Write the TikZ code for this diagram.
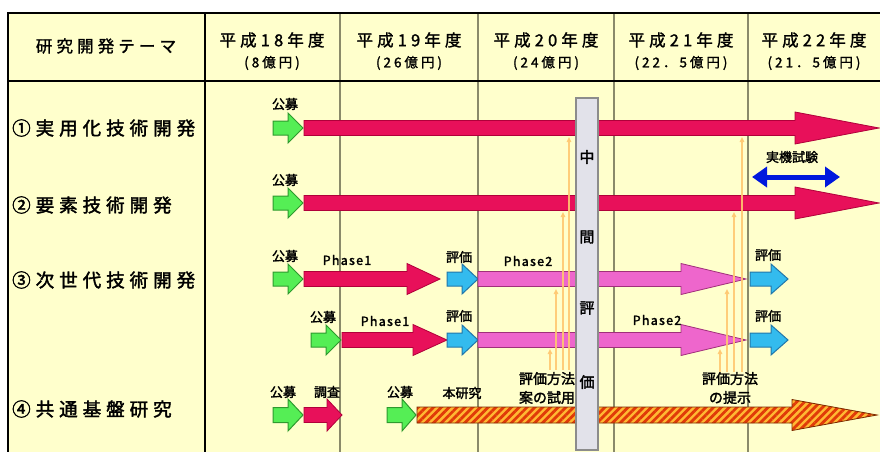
\documentclass[tikz,border=0pt]{standalone}
\usepackage{fontspec}
\setmainfont{Noto Sans CJK JP}
\newfontfamily\jp{Noto Sans CJK JP}[FakeBold=2]
\newfontfamily\jpl{Noto Sans CJK JP}[FakeBold=2,LetterSpace=10]
\newfontfamily\jpw{Noto Sans CJK JP}[FakeBold=2,LetterSpace=27]
\newfontfamily\jph{Noto Sans CJK JP}[FakeBold=1.5,LetterSpace=25]
\newfontfamily\jphs{Noto Sans CJK JP}[FakeBold=1.5,LetterSpace=22]
\usetikzlibrary{patterns.meta,arrows.meta}
\definecolor{bgy}{HTML}{FFFFCC}
\definecolor{gridc}{HTML}{8A8A6A}
\definecolor{redA}{HTML}{E8105A}
\definecolor{redB}{HTML}{B0003A}
\definecolor{grnA}{HTML}{55EE55}
\definecolor{grnB}{HTML}{2E9A2E}
\definecolor{cyA}{HTML}{33BBEE}
\definecolor{cyB}{HTML}{2277AA}
\definecolor{pkA}{HTML}{EE66CC}
\definecolor{pkB}{HTML}{A0307A}
\definecolor{orgL}{HTML}{FFC870}
\definecolor{grayA}{HTML}{E2E2EA}
\definecolor{grayB}{HTML}{8C8C8C}
\definecolor{blueA}{HTML}{0018DD}
\definecolor{hatchA}{HTML}{FFB833}
\definecolor{hatchB}{HTML}{E03A08}
\definecolor{hatchC}{HTML}{7A2A00}
% style, x1, xhead, xtip, y, half bar, half head
\newcommand{\blockarr}[7]{%
  \draw[#1] (#2,#5-#6) -- (#3,#5-#6) -- (#3,#5-#7) -- (#4,#5) -- (#3,#5+#7) -- (#3,#5+#6) -- (#2,#5+#6) -- cycle;}
\newcommand{\hatcharr}[7]{%
  \fill[hatchA] (#2,#5-#6) -- (#3,#5-#6) -- (#3,#5-#7) -- (#4,#5) -- (#3,#5+#7) -- (#3,#5+#6) -- (#2,#5+#6) -- cycle;
  \fill[pattern={Lines[angle=45,distance=5.5pt,line width=2.8pt]},pattern color=hatchB] (#2,#5-#6) -- (#3,#5-#6) -- (#3,#5-#7) -- (#4,#5) -- (#3,#5+#7) -- (#3,#5+#6) -- (#2,#5+#6) -- cycle;
  \draw[#1] (#2,#5-#6) -- (#3,#5-#6) -- (#3,#5-#7) -- (#4,#5) -- (#3,#5+#7) -- (#3,#5+#6) -- (#2,#5+#6) -- cycle;}
\begin{document}
\begin{tikzpicture}[x=1pt,y=-1pt,
  grn/.style={fill=grnA,draw=grnB,line width=1pt},
  redar/.style={fill=redA,draw=redB,line width=0.8pt},
  cyar/.style={fill=cyA,draw=cyB,line width=1pt},
  pkar/.style={fill=pkA,draw=pkB,line width=0.8pt},
  hatchbd/.style={draw=hatchC,line width=0.8pt},
  gridline/.style={draw=gridc,line width=1.2pt},
  border/.style={draw=black,line width=2.6pt},
  hdr/.style={font=\jph\fontsize{16.5}{17}\selectfont,inner sep=0},
  hdrs/.style={font=\jphs\fontsize{13.5}{14}\selectfont,inner sep=0},
  rowlbl/.style={font=\jpw\fontsize{18.5}{19}\selectfont,inner sep=0,anchor=west},
  lbl/.style={font=\jp\fontsize{13}{14}\selectfont,inner sep=0},
  lbl2/.style={font=\jp\fontsize{14}{19}\selectfont,inner sep=0,align=center},
  phs/.style={font=\jpl\fontsize{12.5}{13}\selectfont,inner sep=0},
  orgline/.style={draw=orgL,line width=1.5pt,opacity=0.9,-{Triangle[length=5pt,width=4.5pt]}},
  midbar/.style={fill=grayA,draw=grayB,line width=1.2pt},
  midch/.style={font=\jp\fontsize{15}{16}\selectfont,inner sep=0}]
\useasboundingbox (0,0) rectangle (880,452);
\fill[white] (0,0) rectangle (880,452);
\fill[bgy] (8,13) rectangle (880,452);
% grid
\foreach \gx in {340,478,614,748} \draw[gridline] (\gx,13) -- (\gx,452);
\draw[border] (8,452) -- (8,13) -- (880,13);
\draw[border] (8,81) -- (880,81);
\draw[border] (205,13) -- (205,452);
% header
\node[hdr] (h0) at (106,46) {研究開発テーマ};
\node[hdr] (h1) at (272,40) {平成18年度};
\node[hdrs] (h1s) at (272,63) {(8億円)};
\node[hdr] (h2) at (409,40) {平成19年度};
\node[hdrs] (h2s) at (409,63) {(26億円)};
\node[hdr] (h3) at (546,40) {平成20年度};
\node[hdrs] (h3s) at (546,63) {(24億円)};
\node[hdr] (h4) at (681,40) {平成21年度};
\node[hdrs] (h4s) at (681,63) {(22．5億円)};
\node[hdr] (h5) at (814,40) {平成22年度};
\node[hdrs] (h5s) at (814,63) {(21．5億円)};
% row labels
\node[rowlbl] (r1) at (12,128) {①実用化技術開発};
\node[rowlbl] (r2) at (12,205) {②要素技術開発};
\node[rowlbl] (r3) at (12,280) {③次世代技術開発};
\node[rowlbl] (r4) at (12,409) {④共通基盤研究};
% row 1
\blockarr{grn}{273}{288}{303}{128}{7}{15}
\node[lbl] (k1) at (285,104) {公募};
\blockarr{redar}{304}{795}{879}{128}{7.5}{16}
% row 2
\blockarr{grn}{273}{288}{303}{203}{7}{15}
\node[lbl] (k2) at (285,180) {公募};
\blockarr{redar}{304}{795}{879}{203}{7.5}{16}
\node[lbl] (jk) at (792,157) {実機試験};
\coordinate (bl) at (752,177);
\coordinate (br) at (840,177);
\draw[blueA,line width=5pt,{Triangle[length=15pt,width=20pt]}-{Triangle[length=15pt,width=20pt]}] (bl) -- (br);
% row 3a
\blockarr{grn}{273}{288}{303}{279}{7}{15}
\node[lbl] (k3) at (285,256) {公募};
\blockarr{redar}{304}{407}{440}{279}{7.5}{15.5}
\node[phs] (p1a) at (347,260) {Phase1};
\blockarr{cyar}{447}{462}{478}{279}{7}{15}
\node[lbl] (e3a) at (459,257) {評価};
\blockarr{pkar}{478}{681}{746}{279}{7.5}{15.5}
\node[phs] (p2a) at (528,261) {Phase2};
\blockarr{cyar}{750}{771}{788}{279}{7}{15}
\node[lbl] (e3b) at (768,255) {評価};
% row 3b
\blockarr{grn}{311}{326}{341}{340}{7}{15}
\node[lbl] (k3b) at (323,317) {公募};
\blockarr{redar}{342}{413}{447}{340}{7.5}{15.5}
\node[phs] (p1b) at (385,321) {Phase1};
\blockarr{cyar}{447}{462}{478}{340}{7}{15}
\node[lbl] (e3c) at (459,316) {評価};
\blockarr{pkar}{478}{681}{746}{340}{7.5}{15.5}
\node[phs] (p2b) at (657,320) {Phase2};
\blockarr{cyar}{750}{771}{788}{340}{7}{15}
\node[lbl] (e3d) at (768,316) {評価};
% row 4
\blockarr{grn}{273}{288}{303}{415}{7.5}{16}
\node[lbl] (k4a) at (283,392) {公募};
\blockarr{redar}{304}{327}{342}{415}{7.5}{16}
\node[lbl] (cs) at (327,392) {調査};
\blockarr{grn}{387}{402}{416}{415}{7.5}{16}
\node[lbl] (k4b) at (400,392) {公募};
\hatcharr{hatchbd}{417}{792}{877}{415}{8}{15.5}
\node[lbl] (hk) at (462,393) {本研究};
\node[lbl2] (ev1) at (547,388) {評価方法\\案の試用};
\node[lbl2] (ev2) at (730,388) {評価方法\\の提示};
% orange arrows
\draw[orgline] (569,370) -- (569,137);
\draw[orgline] (563,370) -- (563,212);
\draw[orgline] (556,370) -- (556,289);
\draw[orgline] (550,370) -- (550,349);
\draw[orgline] (742,372) -- (742,137);
\draw[orgline] (734,372) -- (734,212);
\draw[orgline] (727,372) -- (727,289);
\draw[orgline] (720,372) -- (720,349);
% mid-term evaluation bar
\draw[midbar] (576,98) rectangle (598,450);
\node[midch] (m1) at (587,157) {中};
\node[midch] (m2) at (587,237) {間};
\node[midch] (m3) at (587,308) {評};
\node[midch] (m4) at (587,382) {価};
\end{tikzpicture}
\end{document}
